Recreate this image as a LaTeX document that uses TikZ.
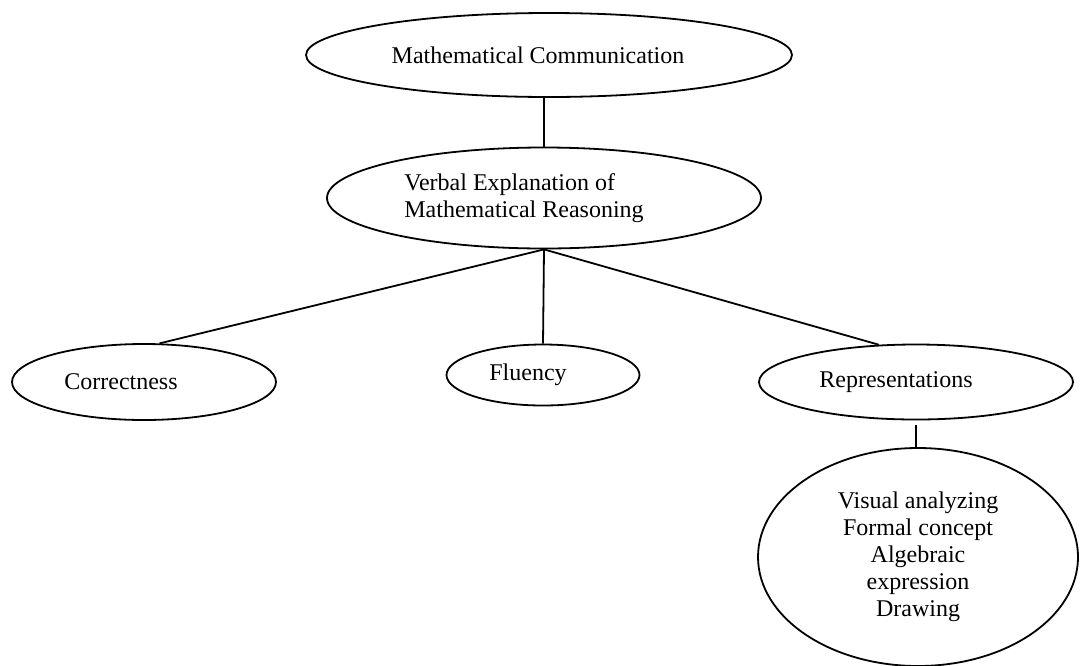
\documentclass[tikz,border=0pt]{standalone}
\usepackage{fontspec}
\setmainfont{Liberation Serif}
\usetikzlibrary{shapes.geometric}
\tikzset{
	concept/.style={draw,ellipse,line width=0.9pt,inner sep=0pt,font=\fontsize{12}{13.5}\selectfont},
	link/.style={line width=0.9pt}
}
\begin{document}
\begin{tikzpicture}[x=0.5pt,y=-0.5pt]
		\useasboundingbox (0,0) rectangle (1080,665);
		\node[concept,minimum width=243pt,minimum height=42pt] (mc) at (549,55) {Mathematical Communication\hspace*{11pt}};
		\node[concept,minimum width=217pt,minimum height=50.5pt,align=left] (veb) at (544,198) {Verbal Explanation of\\Mathematical Reasoning\hspace*{20pt}};
		\node[concept,minimum width=132pt,minimum height=38pt] (corr) at (144,382) {Correctness\hspace*{23pt}};
		\node[concept,minimum width=96.5pt,minimum height=30.5pt] (flu) at (543,375) {Fluency\hspace*{15pt}};
		\node[concept,minimum width=157pt,minimum height=37.5pt] (rep) at (916,382) {Representations\hspace*{20pt}};
		\node[concept,minimum width=160pt,minimum height=109pt,align=center] (big) at (918,557) {Visual analyzing\\Formal concept\\Algebraic\\expression\\Drawing};
		\coordinate (repfoot) at ([yshift=-2.5pt]rep.south);
		% connectors
		\draw[link] (veb.north) -- (veb.north |- mc.south);
		\draw[link] (veb.south) -- (corr.68);\draw[link] (veb.south) -- (flu.north);\draw[link] (veb.south) -- (rep.135);
		\draw[link] (repfoot) -- (repfoot |- big.north);
	\end{tikzpicture}
\end{document}
